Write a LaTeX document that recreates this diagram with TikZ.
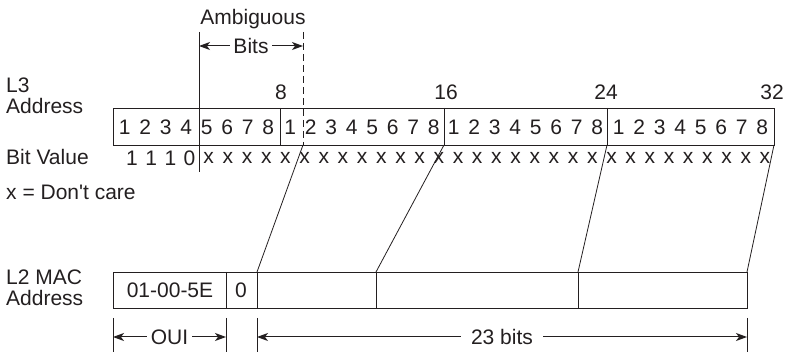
\documentclass[tikz,border=0pt]{standalone}
\usepackage{fontspec}
\setmainfont{Liberation Sans}
\definecolor{inkGray}{HTML}{231F20}
\usetikzlibrary{arrows.meta,positioning,calc}
\tikzset{
  >={Stealth[length=11pt,width=8pt,inset=3pt]},
  every picture/.append style={font=\fontsize{21}{21}\selectfont,text=inkGray},
  lbl/.style={anchor=west,align=left,inner sep=0pt},
  bit/.style={inner sep=0pt},
  field/.style={rectangle,draw=inkGray,line width=1pt,inner sep=0pt},
  rule/.style={draw=inkGray,line width=1pt},
  dimarrow/.style={<->,draw=inkGray,line width=1pt},
  gaplabel/.style={fill=white,inner sep=4pt},
}
\begin{document}
\begin{tikzpicture}[x=1pt,y=-1pt]
  \useasboundingbox (0,0) rectangle (787,352);

  % row titles
  \node[lbl] (l3lbl) at (6,96) {L3\\Address};
  \node[lbl] (bvlbl) at (6,157) {Bit Value};
  \node[lbl] (dclbl) at (6,192) {x = Don\textquotesingle t care};
  \node[lbl] (l2lbl) at (6,288) {L2 MAC\\Address};

  % L3 address, four octets
  \node[field, minimum width=661pt, minimum height=37pt, anchor=north west] (l3) at (113,108) {};
  \draw[rule] (280,108) -- (280,145);
  \draw[rule] (444,108) -- (444,145);
  \draw[rule] (607,108) -- (607,145);
  \foreach \oc/\cx in {1/196.5,2/362,3/525.5,4/690.5}
    \foreach \b in {1,...,8}
      \node[bit] (o\oc b\b) at ({\cx+20.5*(\b-4.5)},127) {\b};
  \node (n8) at (281,92) {8};
  \node (n16) at (446,92) {16};
  \node (n24) at (606,92) {24};
  \node (n32) at (772,92) {32};

  % bit values
  \foreach \v [count=\i from 0] in {1,1,1,0}
    \node[bit] (bv\i) at ({132+19.18*\i},158) {\v};
  \foreach \i in {4,...,33}
    \node[bit] (bv\i) at ({132+19.18*\i},158) {x};

  % ambiguous bits
  \node (amb) at (253,19) {Ambiguous};
  \coordinate (ambL) at (199,32);
  \coordinate (ambLend) at (199,172);
  \coordinate (ambR) at (303,32);
  \coordinate (bitsL) at (199,46);
  \coordinate (bitsR) at (303,46);
  \draw[rule] (ambL) -- (ambLend);
  \draw[dimarrow] (bitsL) -- node[gaplabel,inner sep=3pt] (bits) {Bits} (bitsR);

  % L2 MAC address
  \node[field, minimum width=634pt, minimum height=36pt, anchor=north west] (mac) at (113,272) {};
  \draw[rule] (226,272) -- (226,308);
  \draw[rule] (257,272) -- (257,308);
  \draw[rule] (376,272) -- (376,308);
  \draw[rule] (578,272) -- (578,308);
  \node (prefix) at (170,290) {01-00-5E};
  \node (zero) at (241,290) {0};

  % mapping of the low 23 bits
  \coordinate (s1) at (303,145); \coordinate (m1) at (257,272);
  \coordinate (s2) at (444,145); \coordinate (m2) at (376,272);
  \coordinate (s3) at (607,145); \coordinate (m3) at (578,272);
  \coordinate (s4) at (774,145); \coordinate (m4) at (747,272);
  \draw[rule,dash pattern=on 7pt off 4pt] (ambR) -- (s1);
  \draw[rule,line width=0.8pt] (s1) -- (m1);
  \draw[rule,line width=0.8pt] (s2) -- (m2);
  \draw[rule,line width=0.8pt] (s3) -- (m3);
  \draw[rule,line width=0.8pt] (s4) -- (m4);

  % dimensions
  \foreach \t/\tx in {1/113,2/226,3/257,4/747} {
    \coordinate (t\t a) at (\tx,318);
    \coordinate (t\t b) at (\tx,337);
    \draw[rule] (t\t a) -- (\tx,352);
  }
  \draw[dimarrow] (t1b) -- node[gaplabel] (ouilbl) {OUI} (t2b);
  \draw[dimarrow] (t3b) -- node[gaplabel,inner sep=10pt] (lowlbl) {23 bits} (t4b);
\end{tikzpicture}
\end{document}
